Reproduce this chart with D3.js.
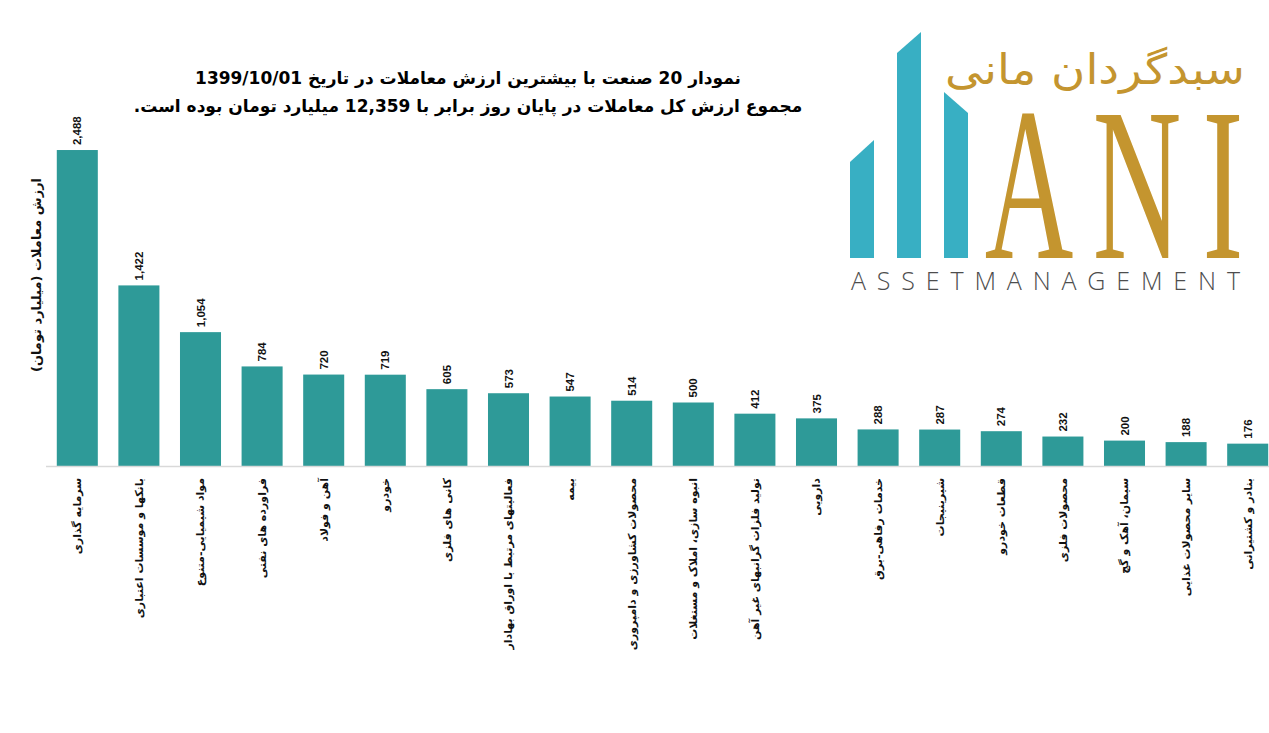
<!DOCTYPE html>
<html><head><meta charset="utf-8">
<script src="https://cdn.jsdelivr.net/npm/d3@7/dist/d3.min.js"></script>
<style>
html,body{margin:0;padding:0;background:#fff;}
svg{display:block;}
</style></head>
<body>
<script>
const categories = [
  "سرمایه گذاری",
  "بانکها و موسسات اعتباری",
  "مواد شیمیایی-متنوع",
  "فراورده های نفتی",
  "آهن و فولاد",
  "خودرو",
  "کانی های فلزی",
  "فعالیتهای مرتبط با اوراق بهادار",
  "بیمه",
  "محصولات کشاورزی و دامپروری",
  "انبوه سازی، املاک و مستغلات",
  "تولید فلزات گرانبهای غیر آهن",
  "دارویی",
  "خدمات رفاهی-برق",
  "شیرینیجات",
  "قطعات خودرو",
  "محصولات فلزی",
  "سیمان، آهک و گچ",
  "سایر محصولات غذایی",
  "بنادر و کشتیرانی"
];
const values = [2488,1422,1054,784,720,719,605,573,547,514,500,412,375,288,287,274,232,200,188,176];
const titleLines = [
  "نمودار  20 صنعت با بیشترین ارزش معاملات در تاریخ 1399/10/01",
  "مجموع ارزش  کل معاملات در پایان روز برابر با 12,359 میلیارد تومان بوده است."
];
const yTitle = "ارزش معاملات (میلیارد تومان)";
const logoFa = "سبدگردان مانی";
const logoEn = "ASSETMANAGEMENT";

const W = 1269, H = 733;
const svg = d3.select("body").append("svg").attr("width", W).attr("height", H);

const baseY = 466;
const x = d3.scaleBand().domain(categories).range([46.5, 1278.5]).paddingInner(0.334).paddingOuter(0.167);
const y = d3.scaleLinear().domain([0, 3000]).range([baseY, baseY - 381]);

const barColor = "#2e9a98";
const fontFa = "'DejaVu Sans', 'Noto Sans', sans-serif";

// bars
svg.append("g").selectAll("rect").data(values).join("rect")
  .attr("x", (d,i) => x(categories[i]))
  .attr("y", d => y(d))
  .attr("width", x.bandwidth())
  .attr("height", d => y(0) - y(d))
  .attr("fill", barColor);

// axis line
const xAxis = d3.axisBottom(x).tickSize(0).tickFormat("");
const ax = svg.append("g").attr("transform", `translate(0,${baseY})`).call(xAxis);
ax.select(".domain").attr("stroke", "#d9d9d9").attr("stroke-width", 1.3).attr("d", `M46,0.5H${W}`);

// value labels
const fmt = d3.format(",");
svg.append("g").selectAll("text").data(values).join("text")
  .attr("transform", (d,i) => `translate(${x(categories[i]) + x.bandwidth()/2},${y(d) - 5}) rotate(-90)`)
  .attr("dy", "0.35em")
  .attr("text-anchor", "start")
  .attr("font-family", "'Liberation Sans', Arial, sans-serif")
  .attr("font-weight", "bold")
  .attr("font-size", 11.5)
  .attr("fill", "#111")
  .text(d => fmt(d));

// category labels
svg.append("g").selectAll("text").data(categories).join("text")
  .attr("transform", d => `translate(${x(d) + x.bandwidth()/2},${baseY + 12}) rotate(-90)`)
  .attr("dy", "0.35em")
  .attr("text-anchor", "end")
  .attr("font-family", fontFa)
  .attr("font-weight", "bold")
  .attr("font-size", 11)
  .attr("fill", "#111")
  .text(d => d);

// y axis title
svg.append("text")
  .attr("transform", "translate(36,275) rotate(-90)")
  .attr("dy", "0.35em")
  .attr("text-anchor", "middle")
  .attr("font-family", fontFa)
  .attr("font-weight", "bold")
  .attr("font-size", 13)
  .attr("fill", "#111")
  .text(yTitle);

// title
svg.append("g").selectAll("text").data(titleLines).join("text")
  .attr("x", 468)
  .attr("y", (d,i) => 84 + i*28)
  .attr("text-anchor", "middle")
  .attr("direction", "rtl")
  .attr("font-family", fontFa)
  .attr("font-weight", "bold")
  .attr("font-size", 17)
  .attr("fill", "#000")
  .text(d => d);

// logo
const logo = svg.append("g");
const teal = "#38afc3", gold = "#c4952f";
[[850,162,874,140],[897,53,921,32],[944,92,968,113]].forEach(p => {
  logo.append("polygon")
    .attr("points", `${p[0]},258 ${p[0]},${p[1]} ${p[2]},${p[3]} ${p[2]},258`)
    .attr("fill", teal);
});
[["A",1029],["N",1137],["I",1223]].forEach(([ch,cx]) => {
  logo.append("text")
    .attr("transform", `translate(${cx},258) scale(0.56,1)`)
    .attr("text-anchor", "middle")
    .attr("font-family", "'Liberation Serif', 'DejaVu Serif', serif")
    .attr("font-size", 219)
    .attr("fill", gold)
    .text(ch);
});
logo.append("text")
  .attr("x", 851).attr("y", 290)
  .attr("textLength", 389).attr("lengthAdjust", "spacing")
  .attr("font-family", "'Open Sans', 'Liberation Sans', sans-serif")
  .attr("font-weight", 300)
  .attr("font-size", 25)
  .attr("fill", "#4d4d4d")
  .text(logoEn);
logo.append("text")
  .attr("x", 1095).attr("y", 84)
  .attr("text-anchor", "middle")
  .attr("direction", "rtl")
  .attr("textLength", 300).attr("lengthAdjust", "spacingAndGlyphs")
  .attr("font-family", fontFa)
  .attr("font-size", 42)
  .attr("fill", gold)
  .text(logoFa);
</script>
</body></html>
